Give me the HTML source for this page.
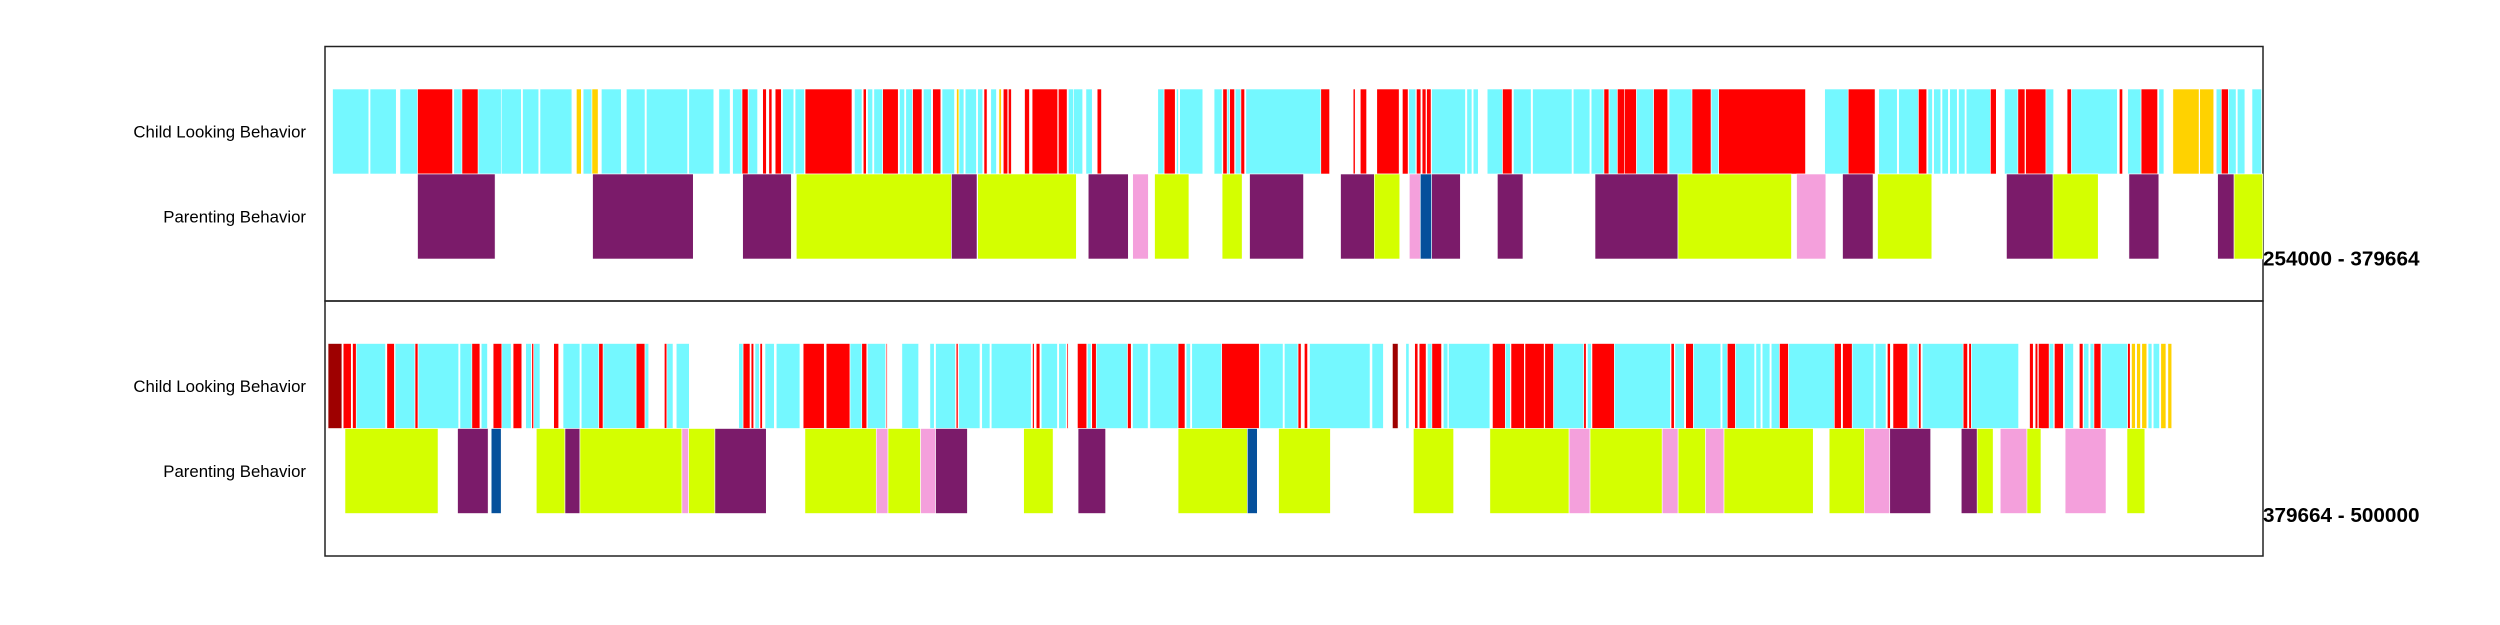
<!DOCTYPE html>
<html><head><meta charset="utf-8"><style>
html,body{margin:0;padding:0;background:#fff;}
svg{display:block;font-family:"Liberation Sans",sans-serif;}
</style></head><body>
<svg id="chart" width="2500" height="625" viewBox="0 0 2500 625"></svg>
<script>
// Category colors
const colorCodes = ["c","r","g","d","p","l","k","b"];
const colorValues = ["#74F8FF","#FF0000","#FFD200","#9E0000","#7B1B6A","#D4FF00","#F4A0DC","#05509B"];
// Panel time ranges (ms)
const panelLabels = ["254000 - 379664","379664 - 500000"];
const panelDurations = [125.664, 120.336];
const rowLabels = ["Child Looking Behavior","Parenting Behavior"];
// Segments: [start s, end s, category] relative to panel start
const child1 = [[0.49,2.84,"c"],[2.92,4.62,"c"],[4.86,6.00,"c"],[6.00,8.27,"r"],[8.35,8.88,"c"],[8.88,9.93,"r"],[9.93,11.43,"c"],[11.43,12.73,"c"],[12.81,13.86,"c"],[13.94,16.01,"c"],[16.30,16.62,"g"],[16.74,17.31,"c"],[17.31,17.71,"g"],[17.92,19.21,"c"],[19.54,20.75,"c"],[20.84,23.51,"c"],[23.59,25.21,"c"],[25.54,26.27,"c"],[26.43,27.04,"c"],[27.04,27.44,"r"],[27.44,28.05,"c"],[28.38,28.62,"r"],[28.78,28.98,"r"],[29.19,29.59,"r"],[29.67,30.40,"c"],[30.48,31.09,"c"],[31.13,34.17,"r"],[34.33,34.82,"c"],[34.90,35.10,"r"],[35.18,35.51,"c"],[35.59,36.16,"c"],[36.16,37.17,"r"],[37.25,37.58,"c"],[37.66,38.10,"c"],[38.10,38.71,"r"],[38.80,39.32,"c"],[39.40,39.93,"r"],[40.01,40.82,"c"],[40.95,41.11,"g"],[41.11,41.43,"c"],[41.51,42.24,"c"],[42.32,42.65,"c"],[42.73,42.93,"r"],[43.17,43.54,"c"],[43.70,43.86,"g"],[43.98,44.27,"r"],[44.31,44.51,"r"],[45.36,45.68,"r"],[45.85,47.51,"r"],[47.55,48.12,"r"],[48.20,48.53,"c"],[48.53,49.13,"c"],[49.34,49.75,"c"],[50.07,50.35,"r"],[54.00,54.41,"c"],[54.41,55.13,"r"],[55.21,55.34,"c"],[55.42,56.92,"c"],[57.65,58.17,"c"],[58.22,58.50,"r"],[58.50,58.66,"c"],[58.66,58.98,"r"],[59.02,59.39,"c"],[59.39,59.63,"r"],[59.71,64.57,"c"],[64.57,65.14,"r"],[66.67,66.80,"r"],[67.13,67.54,"r"],[68.20,69.65,"r"],[69.86,70.23,"r"],[70.27,70.73,"c"],[70.77,71.06,"r"],[71.14,71.39,"r"],[71.43,71.72,"r"],[71.76,73.95,"c"],[74.04,74.37,"c"],[74.45,74.78,"c"],[75.36,76.35,"c"],[76.35,76.97,"r"],[77.06,78.21,"c"],[78.30,80.86,"c"],[80.94,82.02,"c"],[82.10,82.93,"c"],[82.93,83.26,"r"],[83.26,83.80,"c"],[83.80,84.25,"r"],[84.25,85.04,"r"],[85.04,86.15,"c"],[86.15,87.06,"r"],[87.15,88.64,"c"],[88.64,89.88,"r"],[89.88,90.37,"c"],[90.37,96.00,"r"],[97.24,98.77,"c"],[98.77,100.51,"r"],[100.75,101.95,"c"],[102.04,103.32,"c"],[103.32,103.86,"r"],[103.94,104.23,"c"],[104.31,104.77,"c"],[104.85,105.26,"c"],[105.35,105.84,"c"],[105.92,106.34,"c"],[106.42,107.99,"c"],[107.99,108.37,"r"],[108.90,109.77,"c"],[109.77,110.23,"r"],[110.27,111.59,"r"],[111.59,112.09,"c"],[112.96,113.25,"r"],[113.25,116.22,"c"],[116.35,116.56,"r"],[116.89,117.76,"c"],[117.76,118.83,"r"],[118.91,119.24,"c"],[119.82,121.52,"g"],[121.56,122.47,"g"],[122.63,122.96,"c"],[122.96,123.42,"r"],[123.42,123.92,"c"],[124.00,124.49,"c"],[124.95,125.57,"c"]];
const parent1 = [[6.00,11.03,"p"],[17.35,23.88,"p"],[27.08,30.24,"p"],[30.56,40.62,"l"],[40.62,42.28,"p"],[42.32,48.72,"l"],[49.49,52.09,"p"],[52.37,53.39,"k"],[53.79,56.02,"l"],[58.17,59.47,"l"],[59.95,63.45,"p"],[65.85,68.04,"p"],[68.04,69.69,"l"],[70.31,71.02,"k"],[71.02,71.76,"b"],[71.76,73.62,"p"],[76.02,77.68,"p"],[82.35,87.73,"p"],[87.73,95.09,"l"],[95.42,97.32,"k"],[98.40,100.38,"p"],[100.67,104.19,"l"],[109.03,112.05,"p"],[112.05,114.98,"l"],[116.97,118.91,"p"],[122.72,123.79,"p"],[123.79,125.65,"l"]];
const child2 = [[0.19,1.05,"d"],[1.13,1.63,"r"],[1.71,1.94,"r"],[1.94,3.76,"c"],[3.84,4.31,"r"],[4.35,5.59,"c"],[5.59,5.78,"r"],[5.78,8.30,"c"],[8.38,9.12,"c"],[9.12,9.62,"r"],[9.70,10.09,"c"],[10.44,10.98,"r"],[10.98,11.56,"c"],[11.68,12.22,"r"],[12.46,12.81,"c"],[12.84,12.96,"r"],[12.96,13.35,"c"],[14.20,14.51,"r"],[14.78,15.83,"c"],[15.91,17.00,"c"],[17.00,17.27,"r"],[17.27,19.32,"c"],[19.32,19.87,"r"],[19.87,20.10,"c"],[21.07,21.23,"r"],[21.23,21.61,"c"],[21.81,22.62,"c"],[25.69,25.96,"c"],[25.96,26.39,"r"],[26.46,26.62,"r"],[26.70,26.97,"c"],[27.01,27.16,"r"],[27.32,27.90,"c"],[28.02,29.49,"c"],[29.69,31.00,"r"],[31.12,32.60,"r"],[32.60,33.33,"c"],[33.33,33.64,"r"],[33.68,34.81,"c"],[34.85,34.92,"r"],[35.82,36.86,"c"],[37.56,37.83,"c"],[37.91,39.15,"c"],[39.19,39.31,"r"],[39.35,40.67,"c"],[40.78,41.29,"c"],[41.37,43.85,"c"],[43.93,44.04,"r"],[44.16,44.39,"r"],[44.47,45.48,"c"],[45.56,46.02,"c"],[46.06,46.14,"r"],[46.72,47.30,"r"],[47.34,47.57,"c"],[47.61,47.89,"r"],[47.89,49.83,"c"],[49.83,50.06,"r"],[50.14,51.11,"c"],[51.22,52.97,"c"],[52.97,53.40,"r"],[53.47,53.74,"c"],[53.82,55.68,"c"],[55.68,58.01,"r"],[58.05,59.49,"c"],[59.57,60.42,"c"],[60.42,60.61,"r"],[60.81,61.01,"r"],[61.13,64.89,"c"],[65.01,65.72,"c"],[66.28,66.63,"d"],[67.11,67.31,"c"],[67.66,67.86,"r"],[67.94,68.37,"r"],[68.45,68.73,"c"],[68.73,69.33,"r"],[69.44,69.72,"c"],[69.76,72.33,"c"],[72.49,73.29,"r"],[73.29,73.60,"c"],[73.64,74.47,"r"],[74.51,75.70,"r"],[75.74,76.29,"r"],[76.29,78.16,"c"],[78.16,78.31,"r"],[78.39,78.63,"c"],[78.67,80.06,"r"],[80.06,83.54,"c"],[83.58,83.78,"r"],[83.82,84.41,"c"],[84.49,84.97,"r"],[84.97,86.67,"c"],[86.75,87.07,"c"],[87.07,87.58,"r"],[87.58,88.77,"c"],[88.85,89.16,"c"],[89.24,89.72,"c"],[89.80,90.31,"c"],[90.31,90.87,"r"],[90.87,93.72,"c"],[93.72,94.15,"r"],[94.23,94.83,"r"],[94.83,96.17,"c"],[96.25,96.93,"c"],[97.01,97.20,"r"],[97.36,98.27,"r"],[98.35,98.91,"c"],[98.95,99.10,"r"],[99.18,101.72,"c"],[101.72,101.99,"r"],[102.07,102.23,"r"],[102.23,105.16,"c"],[105.84,106.07,"r"],[106.19,106.35,"r"],[106.39,107.06,"r"],[107.06,107.34,"c"],[107.38,107.94,"r"],[108.01,108.57,"c"],[108.93,109.16,"r"],[109.20,109.52,"c"],[109.60,109.84,"c"],[109.84,110.27,"r"],[110.31,111.93,"c"],[111.93,112.09,"r"],[112.17,112.41,"g"],[112.49,112.73,"g"],[112.81,113.12,"g"],[113.20,113.44,"c"],[113.52,113.91,"c"],[113.99,114.31,"g"],[114.43,114.67,"g"]];
const parent2 = [[1.24,7.02,"l"],[8.23,10.13,"p"],[10.32,10.94,"b"],[13.12,14.90,"l"],[14.90,15.83,"p"],[15.83,22.16,"l"],[22.16,22.58,"k"],[22.58,24.21,"l"],[24.21,27.40,"p"],[29.80,34.23,"l"],[34.23,34.96,"k"],[34.96,36.98,"l"],[36.98,37.91,"k"],[37.91,39.89,"p"],[43.38,45.21,"l"],[46.76,48.47,"p"],[52.97,57.27,"l"],[57.27,57.89,"b"],[59.21,62.43,"l"],[67.58,70.08,"l"],[72.33,77.25,"l"],[77.25,78.55,"k"],[78.55,83.03,"l"],[83.03,84.02,"k"],[84.02,85.72,"l"],[85.72,86.87,"k"],[86.87,92.41,"l"],[93.40,95.58,"l"],[95.58,97.16,"k"],[97.16,99.70,"p"],[101.60,102.59,"p"],[102.59,103.58,"l"],[104.02,105.68,"k"],[105.68,106.55,"l"],[108.05,110.59,"k"],[111.89,113.00,"l"]];

const NS = "http://www.w3.org/2000/svg";
const svg = document.getElementById("chart");
const X0 = 325, X1 = 2263;
const panels = [{top:46.5, bottom:301, child:child1, parent:parent1, ly:219},{top:301, bottom:556, child:child2, parent:parent2, ly:221}];
function mk(tag, attrs){const e=document.createElementNS(NS,tag);for(const k in attrs)e.setAttribute(k,attrs[k]);return e;}
function colorOf(code){return colorValues[colorCodes.indexOf(code)];}

panels.forEach((p, i) => {
  const dur = panelDurations[i];
  const xScale = s => X0 + (s / dur) * (X1 - X0);
  const g = mk("g", {});
  
  
  svg.appendChild(g);
  const frame = mk("rect", {x:X0, y:p.top, width:X1 - X0, height:p.bottom - p.top, fill:"none", stroke:"#222", "stroke-width":1.5});
  
  
  g.appendChild(frame);
  const rowTop = [p.top + 42.5, p.top + 127.5];
  const rowH = 85;
  [p.child, p.parent].forEach((segs, r) => {
    const rg = mk("g", {});
    
    
    g.appendChild(rg);
    segs.forEach(sg => {
      const x = xScale(sg[0]), w = Math.max(0.8, xScale(sg[1]) - x);
      const rc = mk("rect", {x:x, y:rowTop[r], width:w, height:rowH, fill:colorOf(sg[2]), stroke:"#fff", "stroke-width":0.6});
      
      
      rg.appendChild(rc);
    });
    const t = mk("text", {x:306, y:rowTop[r] + rowH/2 + 6, "text-anchor":"end", "font-size":16.8, fill:"#000"});
    t.textContent = rowLabels[r];
    
    
    g.appendChild(t);
  });
  const lbl = mk("text", {x:2263, y:p.top + p.ly, "font-size":20.7, "font-weight":"bold", fill:"#000"});
  lbl.textContent = panelLabels[i];
  
  
  g.appendChild(lbl);
});
</script>
</body></html>
